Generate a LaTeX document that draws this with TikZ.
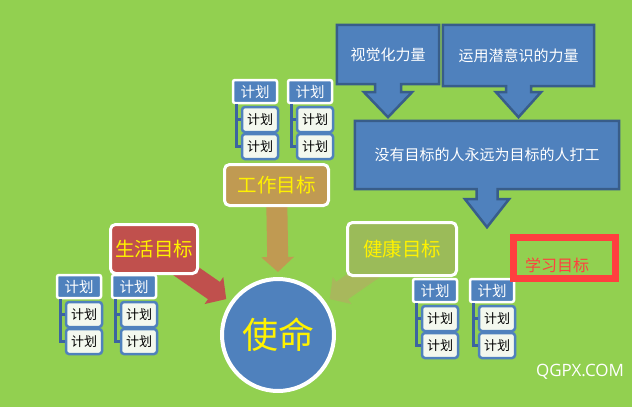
\documentclass[tikz,border=0pt]{standalone}
\usepackage{fontspec}
\setmainfont{Noto Sans CJK SC}
\newfontfamily\webfont{Open Sans}
\usetikzlibrary{arrows.meta,calc}
\pgfdeclarelayer{ground}
\pgfdeclarelayer{under}
\pgfsetlayers{ground,under,main}
\definecolor{grassgreen}{HTML}{92D050}
\definecolor{planblue}{HTML}{4F81BD}
\definecolor{calloutedge}{HTML}{385D8A}
\definecolor{linkblue}{HTML}{3C64A0}
\definecolor{planpaper}{HTML}{F3F8EE}
\definecolor{worktan}{RGB}{192,154,82}
\definecolor{lifered}{HTML}{C0504D}
\definecolor{healtholive}{HTML}{9BBB59}
\definecolor{healtharrow}{RGB}{168,184,92}
\definecolor{alertred}{HTML}{FF3F3F}
\begin{document}
\begin{tikzpicture}[x=1pt, y=-1pt,
  goalbox/.style={draw=white, line width=3pt, rounded corners=5pt, text=yellow, inner sep=0pt, font=\fontsize{19.5}{20}\selectfont},
  calloutbox/.style={draw=calloutedge, fill=planblue, line width=2.5pt},
  callouttext/.style={text=white, inner sep=0pt, font=\fontsize{15}{16}\selectfont},
  plantop/.style={draw=white, fill=planblue, line width=2.5pt, rounded corners=2pt, text=white, minimum width=44pt, minimum height=23pt, inner sep=0pt, font=\fontsize{14.5}{15}\selectfont},
  planitem/.style={draw=planblue, fill=planpaper, line width=2.5pt, rounded corners=3pt, minimum width=36pt, minimum height=25pt, inner sep=0pt, font=\fontsize{13}{14}\selectfont},
  planlink/.style={draw=linkblue, line width=3pt},
  blockarrow/.style={line width=21pt, -{Triangle[width=32pt,length=15pt]}, shorten >=5pt}]
\begin{pgfonlayer}{ground}
\fill[grassgreen] (0,0) rectangle (632,407);
\end{pgfonlayer}

% goals and mission
\node[goalbox, fill=worktan, minimum width=104pt, minimum height=41pt] (work) at (276.5,185) {工作目标};
\node[goalbox, fill=lifered, minimum width=87pt, minimum height=49pt] (life) at (154,249) {生活目标};
\node[goalbox, fill=healtholive, minimum width=109pt, minimum height=53pt] (health) at (402,249) {健康目标};
\node[circle, draw=white, line width=4pt, fill=planblue, minimum size=112pt, inner sep=0pt, text=yellow, font=\fontsize{36}{36}\selectfont] (mission) at (278,335) {使命};
\begin{pgfonlayer}{under}
\draw[blockarrow, worktan] (work.center) -- (mission.north);
\draw[blockarrow, lifered] (life.center) -- (mission);
\draw[blockarrow, healtharrow] (health.center) -- (mission);
\end{pgfonlayer}

% plans
\foreach \n/\gx/\gy in {1/233/80, 2/288/80, 3/57/275, 4/112/275, 5/413/279, 6/470/279} {
  \node[plantop] (p\n) at (\gx+22,\gy+11.5) {计划};
  \node[planitem] (p\n-a) at (\gx+27,\gy+39.5) {计划};
  \node[planitem] (p\n-b) at (\gx+27,\gy+66.5) {计划};
  \draw[planlink] ([xshift=5pt]p\n.south west) |- (p\n-b.west);
  \draw[planlink] ([xshift=5pt]p\n.south west |- p\n-a.west) -- (p\n-a.west);
}

% callouts
\node[callouttext, minimum width=102pt, minimum height=59pt] (vis) at (388,54.5) {};
\draw[calloutbox] (vis.south west) |- (vis.north east) |- ($(vis.south)+(13,0)$) -- ++(0,8) -- ++(11,0)
  -- ($(vis.south)+(0,33)$) -- ($(vis.south)+(-24,8)$) -- ++(11,0) -- ++(0,-8) -- cycle;
\node[callouttext] at (vis) {视觉化力量};
\node[callouttext, minimum width=151pt, minimum height=61pt] (mind) at (518.5,55.5) {};
\draw[calloutbox] (mind.south west) |- (mind.north east) |- ($(mind.south)+(12.5,0)$) -- ++(0,6) -- ++(10,0)
  -- ($(mind.south)+(0,31)$) -- ($(mind.south)+(-22.5,6)$) -- ++(10,0) -- ++(0,-6) -- cycle;
\node[callouttext] at (mind) {运用潜意识的力量};
\node[callouttext, minimum width=264pt, minimum height=68pt] (goalless) at (487,155) {};
\draw[calloutbox] (goalless.south west) |- (goalless.north east) |- ($(goalless.south)+(10.5,0)$) -- ++(0,10) -- ++(11.5,0)
  -- ($(goalless.south)+(0,38)$) -- ($(goalless.south)+(-22,10)$) -- ++(11.5,0) -- ++(0,-10) -- cycle;
\node[callouttext] at (goalless) {没有目标的人永远为目标的人打工};

% study goal
\node[draw=alertred, line width=7pt, minimum width=102pt, minimum height=40.5pt, inner sep=0pt] (studyframe) at (564.5,257.75) {};
\node[text=alertred, inner sep=0pt, font=\fontsize{16}{16}\selectfont] (study) at (557,265) {学习目标};

\node[text=white, inner sep=0pt, font=\webfont\fontsize{17}{17}\selectfont] (site) at (580,372) {QGPX.COM};
\end{tikzpicture}
\end{document}
